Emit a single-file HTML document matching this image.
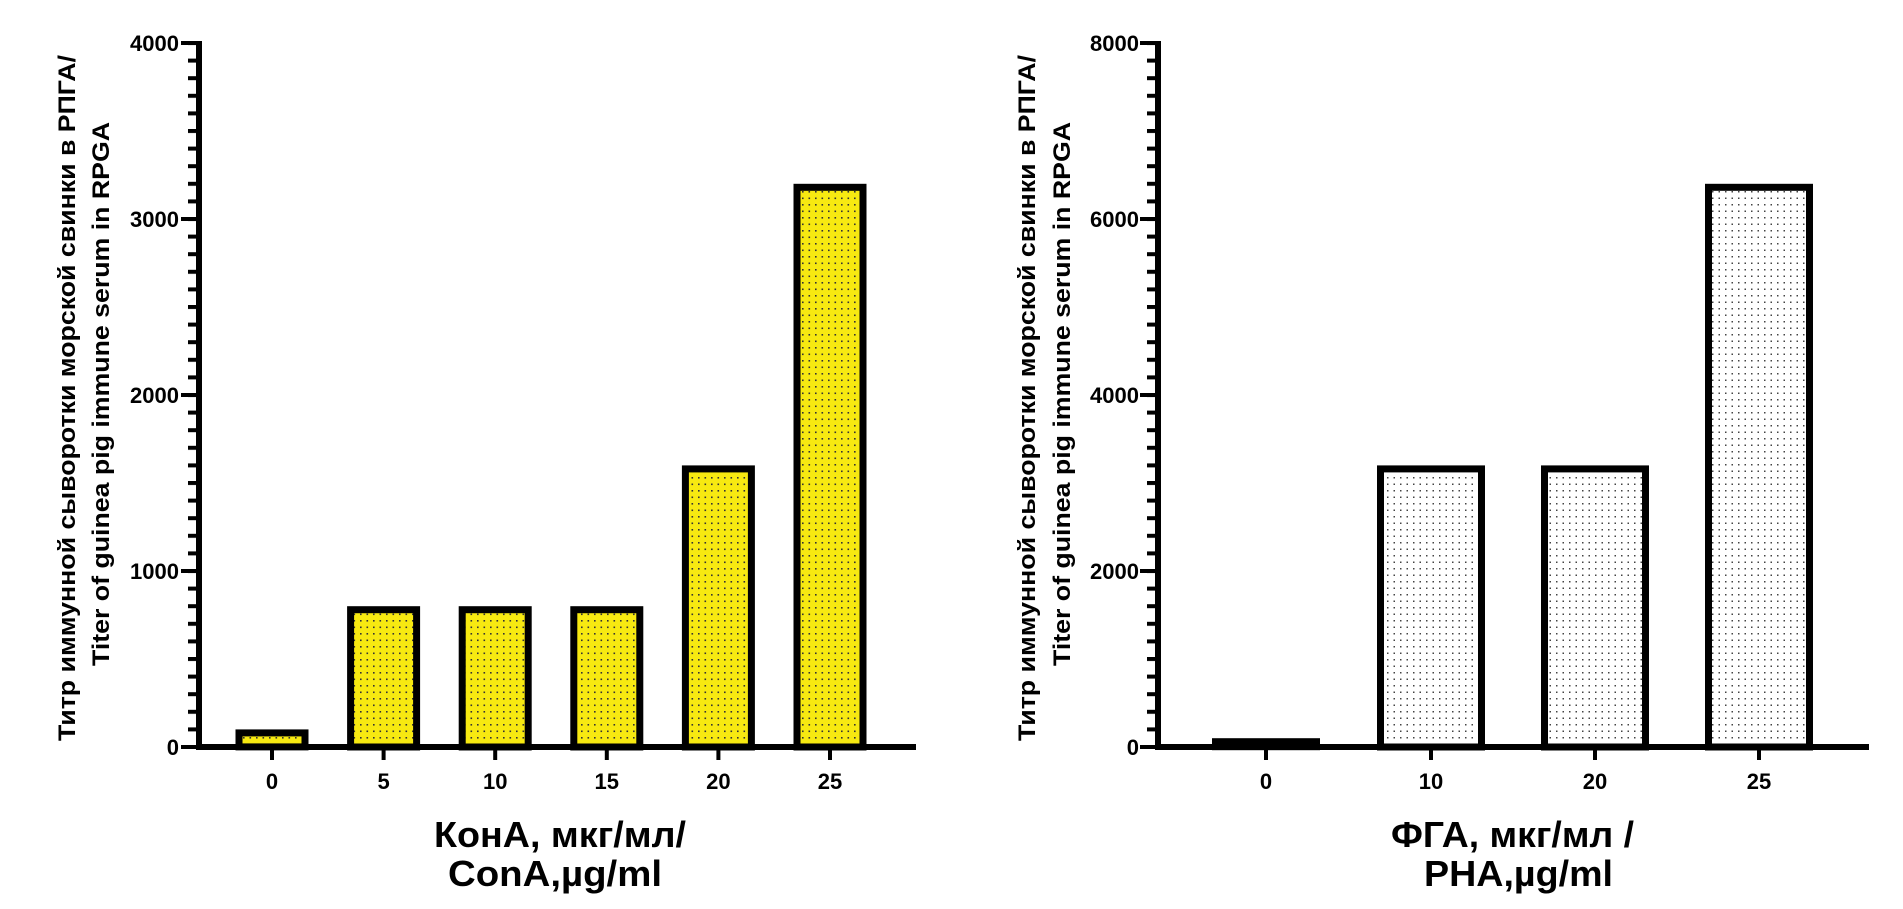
<!DOCTYPE html>
<html><head><meta charset="utf-8"><style>
html,body{margin:0;padding:0;background:#fff;}
svg{display:block;}
text{font-family:"Liberation Sans",Arial,sans-serif;font-weight:bold;fill:#000;}
</style></head><body>
<svg width="1903" height="909" viewBox="0 0 1903 909" xmlns="http://www.w3.org/2000/svg">
<defs>
<pattern id="ydots" width="6.5" height="6.5" patternUnits="userSpaceOnUse">
<rect width="6.5" height="6.5" fill="#f7e911"/><rect x="2.5" y="2.5" width="1.6" height="1.6" fill="#333"/>
</pattern>
<pattern id="wdots" width="6.5" height="6.5" patternUnits="userSpaceOnUse">
<rect width="6.5" height="6.5" fill="#fff"/><rect x="2.5" y="2.5" width="1.5" height="1.5" fill="#444"/>
</pattern>
<pattern id="ticks" x="0" y="745" width="20" height="17.6" patternUnits="userSpaceOnUse">
<rect x="0" y="0" width="20" height="4" fill="#000"/>
</pattern>
</defs>

<!-- LEFT CHART -->
<g>
<rect x="239" y="732.9" width="66" height="14" fill="url(#ydots)" stroke="#000" stroke-width="7"/>
<rect x="350.6" y="609.7" width="66" height="137.3" fill="url(#ydots)" stroke="#000" stroke-width="7"/>
<rect x="462.2" y="609.7" width="66" height="137.3" fill="url(#ydots)" stroke="#000" stroke-width="7"/>
<rect x="573.8" y="609.7" width="66" height="137.3" fill="url(#ydots)" stroke="#000" stroke-width="7"/>
<rect x="685.4" y="468.9" width="66" height="278.1" fill="url(#ydots)" stroke="#000" stroke-width="7"/>
<rect x="797" y="187.3" width="66" height="559.7" fill="url(#ydots)" stroke="#000" stroke-width="7"/>
<rect x="188" y="41" width="10" height="708" fill="url(#ticks)"/>
<rect x="181" y="41" width="17" height="4" fill="#000"/>
<rect x="181" y="217" width="17" height="4" fill="#000"/>
<rect x="181" y="393" width="17" height="4" fill="#000"/>
<rect x="181" y="569" width="17" height="4" fill="#000"/>
<rect x="181" y="745" width="17" height="4" fill="#000"/>
<rect x="196" y="41" width="6" height="709" fill="#000"/>
<rect x="196" y="744" width="720" height="6" fill="#000"/>
<rect x="270" y="747" width="4" height="13" fill="#000"/>
<rect x="381.6" y="747" width="4" height="13" fill="#000"/>
<rect x="493.2" y="747" width="4" height="13" fill="#000"/>
<rect x="604.8" y="747" width="4" height="13" fill="#000"/>
<rect x="716.4" y="747" width="4" height="13" fill="#000"/>
<rect x="828" y="747" width="4" height="13" fill="#000"/>
<g font-size="22" text-anchor="end">
<text x="179" y="51">4000</text>
<text x="179" y="227">3000</text>
<text x="179" y="403">2000</text>
<text x="179" y="579">1000</text>
<text x="179" y="755">0</text>
</g>
<g font-size="22" text-anchor="middle">
<text x="272" y="789">0</text>
<text x="383.6" y="789">5</text>
<text x="495.2" y="789">10</text>
<text x="606.8" y="789">15</text>
<text x="718.4" y="789">20</text>
<text x="830" y="789">25</text>
</g>
<g font-size="36">
<text x="434" y="847" textLength="252" lengthAdjust="spacingAndGlyphs">КонА, мкг/мл/</text>
<text x="448" y="886" textLength="214" lengthAdjust="spacingAndGlyphs">ConA,µg/ml</text>
</g>
<g font-size="24">
<text transform="translate(75,741) rotate(-90)" textLength="686" lengthAdjust="spacingAndGlyphs">Титр иммунной сыворотки морской свинки в РПГА/</text>
<text transform="translate(109,666) rotate(-90)" textLength="544" lengthAdjust="spacingAndGlyphs">Titer of guinea pig immune serum in RPGA</text>
</g>
</g>

<!-- RIGHT CHART -->
<g>
<rect x="1215.5" y="741.7" width="101" height="5" fill="#000" stroke="#000" stroke-width="7"/>
<rect x="1380.5" y="468.9" width="101" height="278.1" fill="url(#wdots)" stroke="#000" stroke-width="7"/>
<rect x="1544.5" y="468.9" width="101" height="278.1" fill="url(#wdots)" stroke="#000" stroke-width="7"/>
<rect x="1708.5" y="187.3" width="101" height="559.7" fill="url(#wdots)" stroke="#000" stroke-width="7"/>
<rect x="1147" y="41" width="10" height="708" fill="url(#ticks)"/>
<rect x="1140" y="41" width="17" height="4" fill="#000"/>
<rect x="1140" y="217" width="17" height="4" fill="#000"/>
<rect x="1140" y="393" width="17" height="4" fill="#000"/>
<rect x="1140" y="569" width="17" height="4" fill="#000"/>
<rect x="1140" y="745" width="17" height="4" fill="#000"/>
<rect x="1155" y="41" width="6" height="709" fill="#000"/>
<rect x="1155" y="744" width="714" height="6" fill="#000"/>
<rect x="1264" y="747" width="4" height="13" fill="#000"/>
<rect x="1429" y="747" width="4" height="13" fill="#000"/>
<rect x="1593" y="747" width="4" height="13" fill="#000"/>
<rect x="1757" y="747" width="4" height="13" fill="#000"/>
<g font-size="22" text-anchor="end">
<text x="1139" y="51">8000</text>
<text x="1139" y="227">6000</text>
<text x="1139" y="403">4000</text>
<text x="1139" y="579">2000</text>
<text x="1139" y="755">0</text>
</g>
<g font-size="22" text-anchor="middle">
<text x="1266" y="789">0</text>
<text x="1431" y="789">10</text>
<text x="1595" y="789">20</text>
<text x="1759" y="789">25</text>
</g>
<g font-size="36">
<text x="1391" y="847" textLength="243" lengthAdjust="spacingAndGlyphs">ФГА, мкг/мл /</text>
<text x="1424" y="886" textLength="189" lengthAdjust="spacingAndGlyphs">PHA,µg/ml</text>
</g>
<g font-size="24">
<text transform="translate(1035,741) rotate(-90)" textLength="686" lengthAdjust="spacingAndGlyphs">Титр иммунной сыворотки морской свинки в РПГА/</text>
<text transform="translate(1070,666) rotate(-90)" textLength="544" lengthAdjust="spacingAndGlyphs">Titer of guinea pig immune serum in RPGA</text>
</g>
</g>
</svg>
</body></html>
